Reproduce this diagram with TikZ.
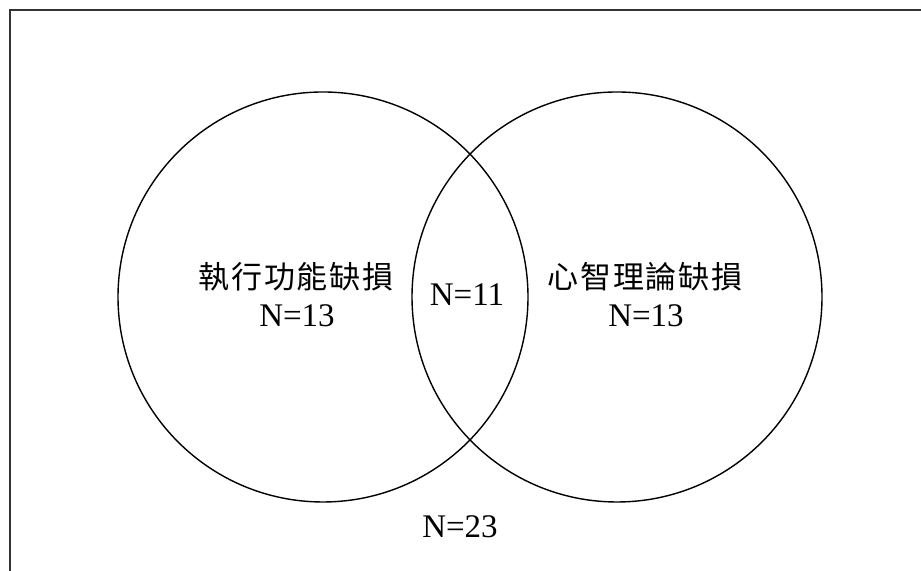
\documentclass[tikz,border=0pt]{standalone}
\usepackage{fontspec}
\setmainfont{Liberation Serif}
\newfontfamily\cjk[LetterSpace=6]{Noto Sans CJK TC}
\usepackage{tikz}
\usetikzlibrary{positioning}

\begin{document}
\begin{tikzpicture}[x=0.5pt, y=0.5pt,
  setline/.style={line width=0.7pt},
  cjklabel/.style={inner sep=0pt, font=\cjk\fontsize{15.5}{18}\selectfont},
  count/.style={inner sep=0pt, font=\fontsize{16.5}{19}\selectfont}]
\useasboundingbox (0,0) rectangle (921,571);

% Frame (cut off at right and bottom)
\draw[line width=1pt, black!80] (10,0) -- (10,561) -- (921,561);

% Left: executive function deficit
\draw[setline] (323,274) circle (205);
\node[cjklabel] (efname) at (296,294) {執行功能缺損};
\node[count] (efn) at (297,255) {N=13};

% Right: theory of mind deficit
\draw[setline] (617,274) circle (205);
\node[cjklabel] (tomname) at (645,294) {心智理論缺損};
\node[count] (tomn) at (646,255) {N=13};

% Overlap and total
\node[count] (bothn) at (467,276) {N=11};
\node[count] (alln) at (460,44) {N=23};
\end{tikzpicture}
\end{document}
